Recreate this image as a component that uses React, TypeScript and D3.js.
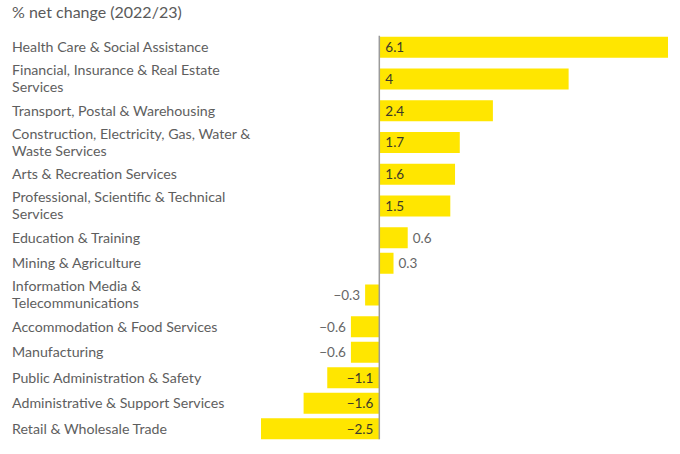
import React, { useEffect, useRef } from 'react';
import * as d3 from 'd3';

const title = '% net change (2022/23)';

const categories = [
  'Health Care & Social Assistance',
  'Financial, Insurance & Real Estate Services',
  'Transport, Postal & Warehousing',
  'Construction, Electricity, Gas, Water & Waste Services',
  'Arts & Recreation Services',
  'Professional, Scientific & Technical Services',
  'Education & Training',
  'Mining & Agriculture',
  'Information Media & Telecommunications',
  'Accommodation & Food Services',
  'Manufacturing',
  'Public Administration & Safety',
  'Administrative & Support Services',
  'Retail & Wholesale Trade',
];

const values = [6.1, 4, 2.4, 1.7, 1.6, 1.5, 0.6, 0.3, -0.3, -0.6, -0.6, -1.1, -1.6, -2.5];

const FONT = 'Lato, "Noto Sans", sans-serif';

const App: React.FC = () => {
  const svgRef = useRef<SVGSVGElement>(null);
  const width = 680;
  const height = 454;

  useEffect(() => {
    if (!svgRef.current) return;
    const svg = d3.select(svgRef.current);
    svg.selectAll('*').remove();

    const labelSize = 14.2;
    const lineHeight = 16.7;
    const maxLabelWidth = 250;

    // word wrap using canvas measurement
    const ctx = document.createElement('canvas').getContext('2d')!;
    ctx.font = `${labelSize}px ${FONT}`;
    const wrap = (s: string) => {
      const words = s.split(' ');
      const lines: string[] = [];
      let cur = '';
      words.forEach(w => {
        const test = cur ? cur + ' ' + w : w;
        if (cur && ctx.measureText(test).width > maxLabelWidth) {
          lines.push(cur);
          cur = w;
        } else cur = test;
      });
      lines.push(cur);
      return lines;
    };

    const rows = categories.map((c, i) => ({ name: c, value: values[i], lines: wrap(c) }));
    const rowH = (n: number) => (n > 1 ? 38 : 25.5);
    const top = 34.5;
    const offsets = [0, ...d3.cumsum(rows, r => rowH(r.lines.length))];
    const barH = 21;

    const x = d3
      .scaleLinear()
      .domain([d3.min(values)!, d3.max(values)!])
      .range([261, 668]);

    const center = (i: number) => top + offsets[i] + rowH(rows[i].lines.length) / 2;

    // Title
    svg
      .append('text')
      .attr('x', 12)
      .attr('y', 17.5)
      .style('font-family', FONT)
      .style('font-size', '16px')
      .attr('fill', '#5a5a5a')
      .text(title);

    // Category labels
    const labels = svg
      .append('g')
      .selectAll('text')
      .data(rows)
      .enter()
      .append('text')
      .attr('x', 12)
      .attr('y', (d, i) => center(i) - ((d.lines.length - 1) * lineHeight) / 2 + 4.8)
      .style('font-family', FONT)
      .style('font-size', `${labelSize}px`)
      .attr('fill', '#5e5e5e');

    labels
      .selectAll('tspan')
      .data(d => d.lines)
      .enter()
      .append('tspan')
      .attr('x', 12)
      .attr('dy', (d, j) => (j === 0 ? 0 : lineHeight))
      .text(d => d);

    // Bars
    svg
      .append('g')
      .selectAll('rect')
      .data(rows)
      .enter()
      .append('rect')
      .attr('x', d => x(Math.min(0, d.value)))
      .attr('y', (d, i) => center(i) - barH / 2)
      .attr('width', d => Math.abs(x(d.value) - x(0)))
      .attr('height', barH)
      .attr('fill', '#ffe600');

    // Value labels
    const fmt = (v: number) => (v < 0 ? '\u2212' + Math.abs(v) : String(v));
    svg
      .append('g')
      .selectAll('text')
      .data(rows)
      .enter()
      .append('text')
      .attr('x', d => {
        const inside = Math.abs(d.value) >= 1;
        if (inside) return d.value >= 0 ? x(0) + 6 : x(0) - 6;
        return d.value >= 0 ? x(d.value) + 5 : x(d.value) - 5;
      })
      .attr('y', (d, i) => center(i) + 4.8)
      .attr('text-anchor', d => (d.value >= 0 ? 'start' : 'end'))
      .style('font-family', FONT)
      .style('font-size', '13.5px')
      .attr('fill', d => (Math.abs(d.value) >= 1 ? '#3c3a2a' : '#666'))
      .text(d => fmt(d.value));

    // Zero line
    svg
      .append('line')
      .attr('x1', x(0))
      .attr('x2', x(0))
      .attr('y1', center(0) - barH / 2 - 1)
      .attr('y2', center(rows.length - 1) + barH / 2)
      .attr('stroke', '#9a9a9a')
      .attr('stroke-width', 1.5);
  }, []);

  return (
    <svg
      ref={svgRef}
      width={width}
      height={height}
      style={{ position: 'absolute', left: 0, top: 0, background: '#fff' }}
    />
  );
};

export default App;
